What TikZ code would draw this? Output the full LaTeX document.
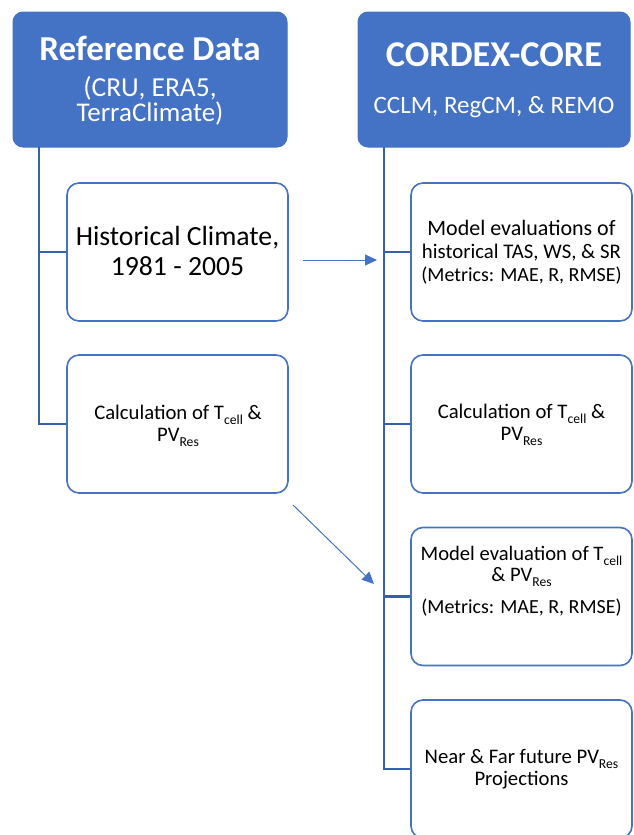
\documentclass[tikz,border=0pt]{standalone}
\usepackage{fontspec}
\usepackage{graphicx}
\setmainfont{Carlito}
\usetikzlibrary{arrows.meta}
\definecolor{hdr}{HTML}{4472C4}
\definecolor{tree}{HTML}{3760AC}
\newcommand{\subtx}[1]{\raisebox{-0.27em}{\scalebox{0.66}{#1}}}
\newcommand{\fsz}[1]{\fontsize{#1}{#1}\selectfont}
\begin{document}
\begin{tikzpicture}[x=1pt,y=-1pt,
  header/.style={draw=hdr, fill=hdr, rounded corners=10pt, inner sep=0pt, line width=1pt},
  child/.style={draw=hdr, fill=white, rounded corners=12pt, inner sep=0pt, line width=1.6pt, minimum width=221pt, minimum height=138pt},
  txt/.style={anchor=base, inner sep=0pt},
  wtxt/.style={anchor=base, inner sep=0pt, text=white},
  treeline/.style={draw=tree, line width=2.6pt},
  flow/.style={draw=hdr, line width=1pt, -{Triangle[length=12pt,width=11pt]}}
]
\useasboundingbox (0,0) rectangle (634,835);
\clip (0,0) rectangle (634,835);
% headers
\node[header, minimum width=274pt, minimum height=135pt] (ref) at (150,79.5) {};
\node[wtxt] (ref1) at (150,60) {\fsz{35}\bfseries Reference Data};
\node[wtxt] (ref2) at (150,96) {\fsz{27.5}(CRU, ERA5,};
\node[wtxt] (ref3) at (150,121) {\fsz{27}TerraClimate)};
\node[header, minimum width=272pt, minimum height=135pt] (cor) at (494,79.5) {};
\node[wtxt] (cor1) at (494,66) {\fsz{36.3}\bfseries CORDEX-CORE};
\node[wtxt] (cor2) at (494,113) {\fsz{25}CCLM, RegCM, \& REMO};
% left children
\node[child] (hist) at (177.5,252) {};
\node[txt] (hist1) at (177.5,245) {\fsz{27.7}Historical Climate,};
\node[txt] (hist2) at (177.5,275) {\fsz{27.7}1981 - 2005};
\node[child] (lcalc) at (177.5,424) {};
\node[txt] (lcalc1) at (178,419) {\fsz{20.7}Calculation of T\subtx{cell} \&};
\node[txt] (lcalc2) at (178,441) {\fsz{20.7}PV\subtx{Res}};
% right children
\node[child] (eval) at (521.5,252) {};
\node[txt] (eval1) at (521.5,235) {\fsz{22}Model evaluations of};
\node[txt] (eval2) at (521.5,258) {\fsz{20.8}historical TAS, WS, \& SR};
\node[txt] (eval3) at (521.5,281) {\fsz{20}(Metrics: MAE, R, RMSE)};
\node[child] (rcalc) at (521.5,424) {};
\node[txt] (rcalc1) at (521.5,418) {\fsz{20.7}Calculation of T\subtx{cell} \&};
\node[txt] (rcalc2) at (521.5,440) {\fsz{20.7}PV\subtx{Res}};
\node[child] (meval) at (521.5,596.5) {};
\node[txt] (meval1) at (521.5,560) {\fsz{20.6}Model evaluation of T\subtx{cell}};
\node[txt] (meval2) at (521.5,581) {\fsz{20.6}\& PV\subtx{Res}};
\node[txt] (meval3) at (521.5,613) {\fsz{20}(Metrics: MAE, R, RMSE)};
\node[child] (proj) at (521.5,769) {};
\node[txt] (proj1) at (521.5,763) {\fsz{20.7}Near \& Far future PV\subtx{Res}};
\node[txt] (proj2) at (521.5,785) {\fsz{20.7}Projections};
% tree connectors
\coordinate (lt) at (39,147);
\coordinate (rt) at (384,147);
\draw[treeline] (lt) |- (lcalc.west);
\draw[treeline] (lt |- hist.west) -- (hist.west);
\draw[treeline] (rt) |- (proj.west);
\draw[treeline] (rt |- eval.west) -- (eval.west);
\draw[treeline] (rt |- rcalc.west) -- (rcalc.west);
\draw[treeline] (rt |- meval.west) -- (meval.west);
% flow arrows
\coordinate (a1s) at (303,260);
\coordinate (a1e) at (377,260);
\draw[flow] (a1s) -- (a1e);
\coordinate (a2s) at (293,505);
\coordinate (a2e) at (374,584);
\draw[flow] (a2s) -- (a2e);
\end{tikzpicture}
\end{document}
